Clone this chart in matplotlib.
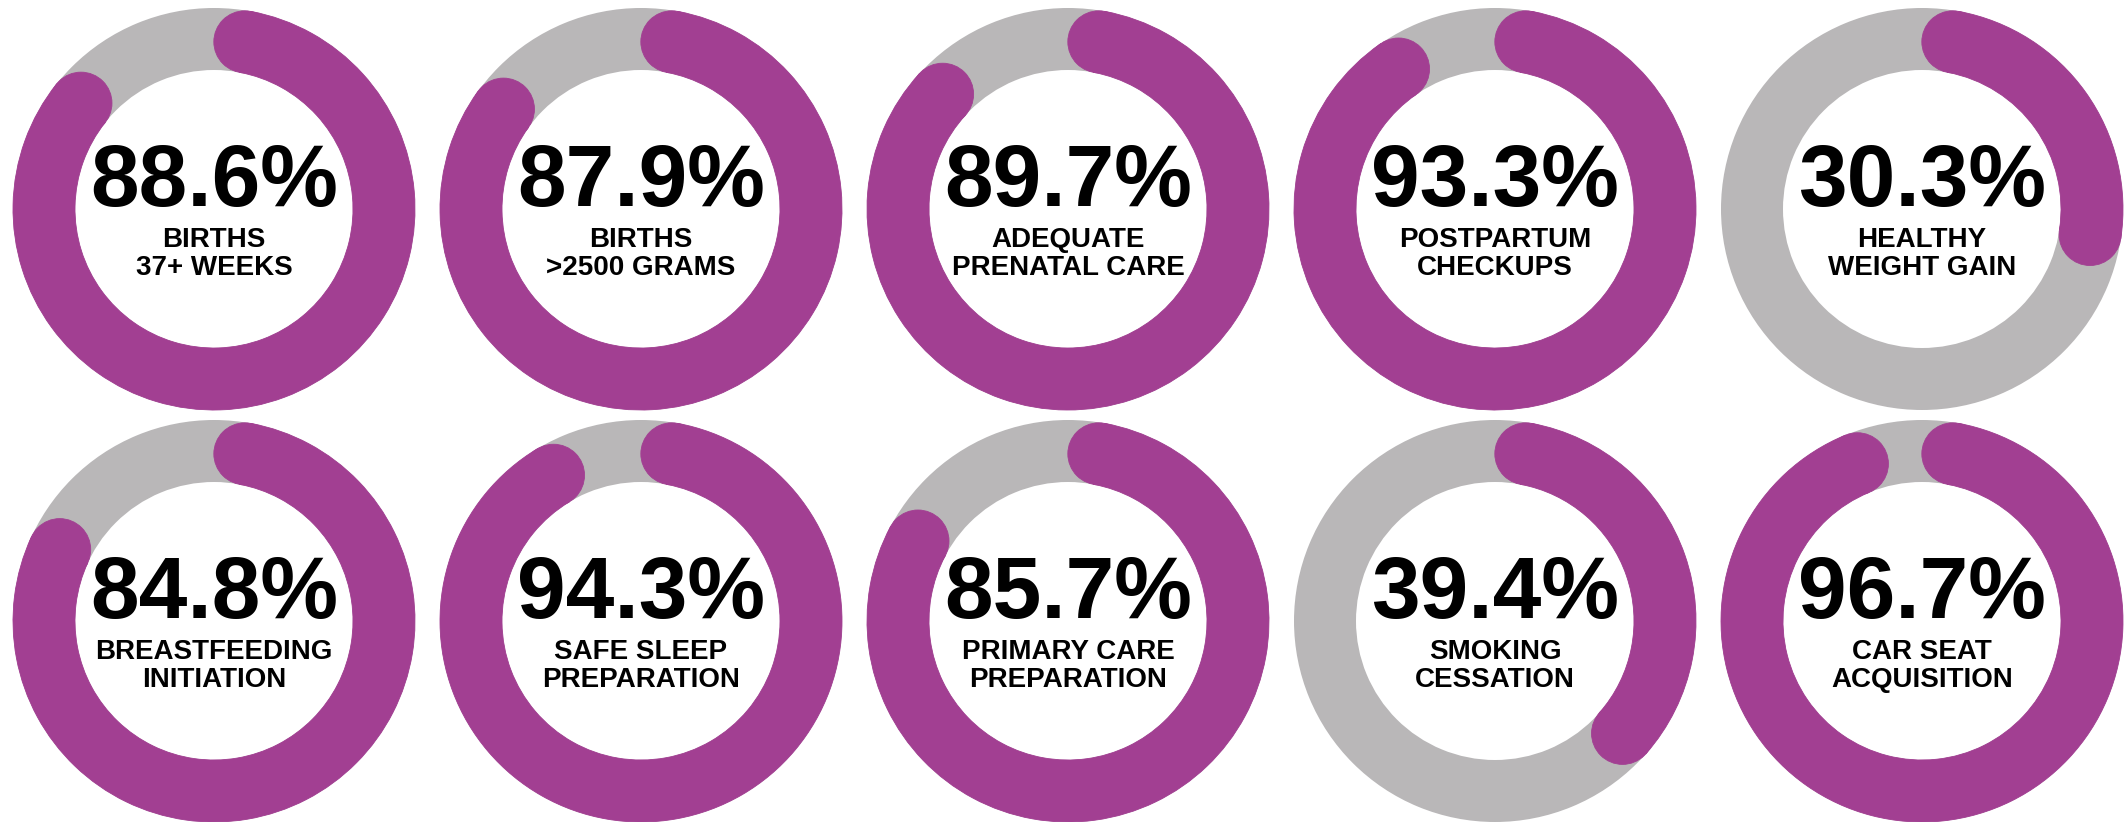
import numpy as np
import matplotlib
matplotlib.use("Agg")
import matplotlib.pyplot as plt
from matplotlib.patches import Wedge, Circle

# Indicator values (percent) and their two-line captions, row by row
values = [88.6, 87.9, 89.7, 93.3, 30.3,
          84.8, 94.3, 85.7, 39.4, 96.7]
captions = [
    "BIRTHS\n37+ WEEKS",
    "BIRTHS\n>2500 GRAMS",
    "ADEQUATE\nPRENATAL CARE",
    "POSTPARTUM\nCHECKUPS",
    "HEALTHY\nWEIGHT GAIN",
    "BREASTFEEDING\nINITIATION",
    "SAFE SLEEP\nPREPARATION",
    "PRIMARY CARE\nPREPARATION",
    "SMOKING\nCESSATION",
    "CAR SEAT\nACQUISITION",
]

# Layout and style
W, H = 2124, 822
N_COLS = 5
X0, DX = 214, 427
ROW_Y = [209, 621]
R_OUT, RING = 201, 62
PURPLE = "#A23F92"
GRAY = "#B9B7B8"
FONT = ["Liberation Sans", "DejaVu Sans"]

fig = plt.figure(figsize=(W / 100, H / 100), dpi=100)
fig.patch.set_facecolor("white")
ax = fig.add_axes([0, 0, 1, 1])
ax.set_xlim(0, W)
ax.set_ylim(H, 0)
ax.set_aspect("equal")
ax.axis("off")

r_mid = R_OUT - RING / 2
cap_deg = np.degrees((RING / 2) / r_mid)

for i, (v, cap_text) in enumerate(zip(values, captions)):
    row, col = divmod(i, N_COLS)
    cx, cy = X0 + col * DX, ROW_Y[row]

    # background ring
    ax.add_patch(Wedge((cx, cy), R_OUT, 0, 360, width=RING,
                       facecolor=GRAY, edgecolor="none"))

    # progress arc from 12 o'clock, clockwise, with rounded ends
    sweep = 360.0 * v / 100.0
    t1 = 270 + cap_deg
    t2 = 270 + sweep - cap_deg
    ax.add_patch(Wedge((cx, cy), R_OUT, t1, t2, width=RING,
                       facecolor=PURPLE, edgecolor=PURPLE, linewidth=0.6))
    for t in (t1, t2):
        tr = np.radians(t)
        ax.add_patch(Circle((cx + r_mid * np.cos(tr), cy + r_mid * np.sin(tr)),
                            RING / 2, facecolor=PURPLE, edgecolor=PURPLE,
                            linewidth=0.6))

    # value and caption
    ax.text(cx, cy - 3, f"{v:.1f}%", ha="center", va="baseline",
            fontsize=63, fontweight="bold", family=FONT, color="black")
    for k, line in enumerate(cap_text.split("\n")):
        ax.text(cx, cy + 38 + 28 * k, line, ha="center", va="baseline",
                fontsize=20, fontweight="bold", family=FONT, color="black")

fig.savefig("out.png", dpi=100, facecolor="white")
